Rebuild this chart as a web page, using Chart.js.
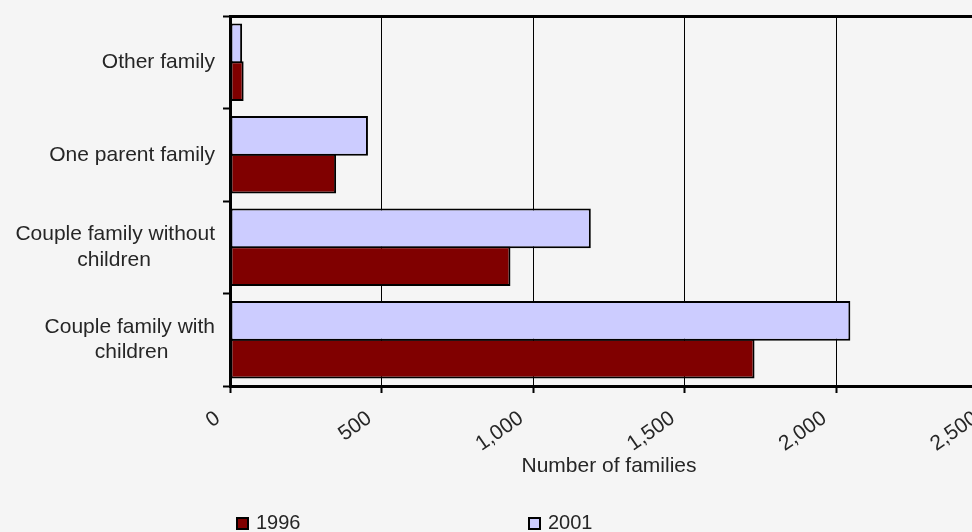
<!DOCTYPE html>
<html>
<head>
<meta charset="utf-8">
<script src="https://cdn.jsdelivr.net/npm/chart.js@4.4.1/dist/chart.umd.min.js"></script>
<style>
html, body { margin: 0; padding: 0; background: #f5f5f5; overflow: hidden; width: 972px; height: 532px; }
canvas { display: block; }
</style>
</head>
<body>
<canvas id="c" width="988" height="532"></canvas>
<script>
// ---- data ----
const categories = [
  ['Other family'],
  ['One parent family'],
  ['Couple family without', 'children'],
  ['Couple family with', 'children']
];
const values1996 = [45, 350, 925, 1730];
const values2001 = [40, 455, 1190, 2046];
const seriesNames = ['1996', '2001'];
const xTickValues = [0, 500, 1000, 1500, 2000, 2500];
const xAxisTitle = 'Number of families';

// ---- styles ----
const FONT = '"Liberation Sans", Arial, sans-serif';
const TEXT = '#262626';
const COLOR_1996 = '#800000';
const COLOR_2001 = '#CCCCFF';

const measureCtx = document.createElement('canvas').getContext('2d');
function centeredLines(lines, size) {
  measureCtx.font = size + 'px ' + FONT;
  const widths = lines.map(l => measureCtx.measureText(l).width);
  const maxW = Math.max.apply(null, widths);
  const nb = measureCtx.measureText('\u00A0').width;
  return lines.map((l, i) => l + '\u00A0'.repeat(Math.round((maxW - widths[i]) / 2 / nb)));
}

const spreadLegend = {
  id: 'spreadLegend',
  afterDraw(chart) {
    const ctx = chart.ctx;
    const order = [1, 0]; // 1996 first, then 2001
    const xs = [236, 528];
    const boxY = 517, box = 13;
    ctx.save();
    ctx.font = '20px ' + FONT;
    ctx.textBaseline = 'middle';
    ctx.textAlign = 'left';
    order.forEach((di, k) => {
      const ds = chart.data.datasets[di];
      ctx.fillStyle = ds.backgroundColor;
      ctx.fillRect(xs[k], boxY, box, box);
      ctx.lineWidth = 2;
      ctx.strokeStyle = '#000';
      ctx.strokeRect(xs[k] + 1, boxY + 1, box - 2, box - 2);
      ctx.fillStyle = TEXT;
      ctx.fillText(ds.label, xs[k] + box + 7, boxY + box / 2);
    });
    ctx.restore();
  }
};

const zeroPad = s => { s.paddingLeft = 0; s.paddingRight = 0; s.paddingTop = 0; s.paddingBottom = 0; };

new Chart(document.getElementById('c'), {
  type: 'bar',
  data: {
    labels: categories,
    datasets: [
      { label: seriesNames[1], data: values2001, backgroundColor: COLOR_2001, borderColor: '#000',
        borderWidth: 2, borderSkipped: false, barPercentage: 1.05, categoryPercentage: 0.82, xAxisID: 'x' },
      { label: seriesNames[0], data: values1996, backgroundColor: COLOR_1996, borderColor: '#000',
        borderWidth: 2, borderSkipped: false, barPercentage: 1.05, categoryPercentage: 0.82, xAxisID: 'x' }
    ]
  },
  options: {
    indexAxis: 'y',
    responsive: false,
    animation: false,
    layout: { padding: { top: 16, left: 0, right: 0, bottom: 0 } },
    plugins: { legend: { display: false }, tooltip: { enabled: false } },
    scales: {
      x: {
        type: 'linear', position: 'bottom', min: 0, max: 2500,
        afterBuildTicks: s => { s.ticks = xTickValues.map(v => ({ value: v })); },
        afterFit: s => { s.height = 146; zeroPad(s); },
        grid: { color: '#000', lineWidth: 1, drawTicks: true, tickLength: 7, tickWidth: 2, tickColor: '#000' },
        border: { color: '#000', width: 3, z: 1 },
        ticks: {
          font: { family: FONT, size: 21 }, color: TEXT,
          minRotation: 35, maxRotation: 35, autoSkip: false, padding: 13, labelOffset: -12,
          callback: v => Number(v).toLocaleString('en-US')
        },
        title: { display: true, text: xAxisTitle, font: { family: FONT, size: 21 }, color: TEXT,
          padding: { top: 0, bottom: 53 } }
      },
      x2: {
        type: 'linear', position: 'top', min: 0, max: 2500,
        afterFit: s => { s.height = 0; zeroPad(s); },
        grid: { display: false },
        border: { display: true, color: '#000', width: 3, z: 1 },
        ticks: { display: false }
      },
      y: {
        type: 'category',
        afterFit: s => { s.width = 230; zeroPad(s); },
        grid: { offset: true, drawOnChartArea: false, drawTicks: true, tickLength: 7, tickWidth: 2, tickColor: '#000', color: '#000' },
        border: { color: '#000', width: 3, z: 1 },
        ticks: {
          font: { family: FONT, size: 21 }, color: TEXT, padding: 8,
          callback: (v, i) => centeredLines(categories[i], 21)
        }
      }
    }
  },
  plugins: [spreadLegend]
});
</script>
</body>
</html>
